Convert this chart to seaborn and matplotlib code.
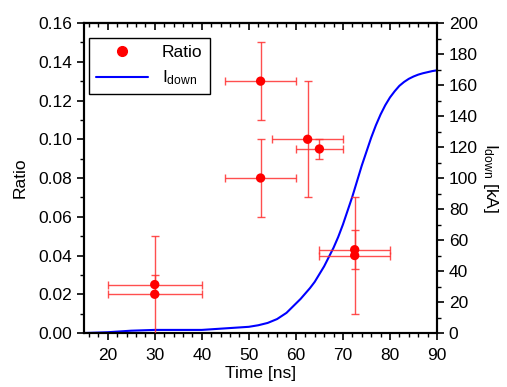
import numpy as np
import pandas as pd
import matplotlib
matplotlib.use("Agg")
import matplotlib.pyplot as plt
import seaborn as sns
from matplotlib.ticker import MultipleLocator
from matplotlib.lines import Line2D

# ratio measurements
time_pts = [30, 30, 52.5, 52.5, 62.5, 65, 72.5, 72.5]
ratio = [0.025, 0.020, 0.130, 0.080, 0.100, 0.095, 0.043, 0.040]
time_err = [10, 10, 7.5, 7.5, 7.5, 5, 7.5, 7.5]
ratio_err = [0.005, 0.030, 0.020, 0.020, 0.030, 0.005, 0.010, 0.030]

# current waveform
t_curve = [15, 20, 25, 30, 35, 40, 45, 50, 52, 54, 56, 58, 60, 61, 62, 63,
           64, 65, 66, 67, 68, 69, 70, 71, 72, 73, 74, 75, 76, 77, 78, 79,
           80, 81, 82, 83, 84, 85, 86, 87, 88, 89, 90]
i_down = [0, 0.5, 1.5, 2, 2, 2, 3, 4, 5, 6.5, 9, 13, 19, 22, 25.5, 29,
          33, 38, 43, 49, 55, 62, 70, 79, 88, 98, 108, 117, 126, 134, 141, 147,
          152, 156, 159.5, 162, 164, 165.5, 166.7, 167.6, 168.3, 169, 169.5]

sns.set_style("ticks")
plt.rcParams['font.family'] = ['Liberation Sans', 'DejaVu Sans']
plt.rcParams['mathtext.fontset'] = 'custom'
plt.rcParams['mathtext.rm'] = 'Liberation Sans'
plt.rcParams['mathtext.it'] = 'Liberation Sans'
plt.rcParams['font.size'] = 12.5
for k in ['axes.edgecolor', 'xtick.color', 'ytick.color', 'text.color', 'axes.labelcolor']:
    plt.rcParams[k] = 'black'

fig = plt.figure(figsize=(5.07, 3.87), dpi=100)
ax = fig.add_axes([0.166, 0.1395, 0.696, 0.801])
ax2 = ax.twinx()

df = pd.DataFrame({"t": t_curve, "I": i_down})
sns.lineplot(data=df, x="t", y="I", ax=ax2, color="#0000ff", linewidth=1.5)

ax.errorbar(time_pts, ratio, xerr=time_err, yerr=ratio_err, fmt="none",
            ecolor="#ff3030", elinewidth=1.0, capsize=3, capthick=1.0, alpha=0.85, zorder=3)
sns.scatterplot(x=time_pts, y=ratio, ax=ax, color="#ff0000", s=45,
                edgecolor="none", zorder=4)
ax.set_zorder(ax2.get_zorder() + 1)
ax.patch.set_visible(False)

ax.set_xlim(15, 90)
ax.set_ylim(0, 0.16)
ax2.set_ylim(0, 200)
ax.xaxis.set_major_locator(MultipleLocator(10))
ax.xaxis.set_minor_locator(MultipleLocator(2))
ax.yaxis.set_major_locator(MultipleLocator(0.02))
ax.yaxis.set_minor_locator(MultipleLocator(0.01))
ax.yaxis.set_major_formatter(matplotlib.ticker.FormatStrFormatter('%.2f'))
ax2.yaxis.set_major_locator(MultipleLocator(20))
ax2.yaxis.set_minor_locator(MultipleLocator(10))

ax.tick_params(axis='x', which='both', direction='out', labelsize=12.5, pad=6)
ax.tick_params(axis='x', which='major', length=5, width=1.2)
ax.tick_params(axis='x', which='minor', length=3, width=1.0)
ax.tick_params(axis='y', which='major', direction='out', length=5, width=1.2, labelsize=12.5)
ax.tick_params(axis='y', which='minor', direction='out', length=3, width=1.0)
ax2.tick_params(axis='y', which='major', direction='out', length=5, width=1.2, labelsize=12.5)
ax2.tick_params(axis='y', which='minor', direction='out', length=3, width=1.0)
# top ticks point inward
secx = ax.secondary_xaxis('top')
secx.xaxis.set_major_locator(MultipleLocator(10))
secx.xaxis.set_minor_locator(MultipleLocator(2))
secx.tick_params(which='both', direction='in', labeltop=False)
secx.tick_params(which='major', length=5, width=1.2)
secx.tick_params(which='minor', length=3, width=1.0)

for a in (ax, ax2):
    for s in a.spines.values():
        s.set_linewidth(1.5)
        s.set_visible(True)
secx.spines['top'].set_linewidth(1.5)

ax.set_xlabel("Time [ns]", fontsize=12.5, labelpad=2)
ax.set_ylabel("Ratio", fontsize=12.5, labelpad=8)
ax2.set_ylabel(r"I$_{\mathrm{down}}$ [kA]", fontsize=12.5, rotation=270, labelpad=16)

handles = [Line2D([], [], marker='o', linestyle='none', color='#ff0000', markersize=7),
           Line2D([], [], color='#0000ff', linewidth=1.5)]
leg = ax.legend(handles, ["Ratio", r"I$_{\mathrm{down}}$"], loc='upper left',
                bbox_to_anchor=(0.014, 0.952), borderaxespad=0, fancybox=False,
                edgecolor='black', framealpha=1, handlelength=3, fontsize=12.5)
leg.get_frame().set_linewidth(1.0)

fig.savefig("out.png", dpi=100)
